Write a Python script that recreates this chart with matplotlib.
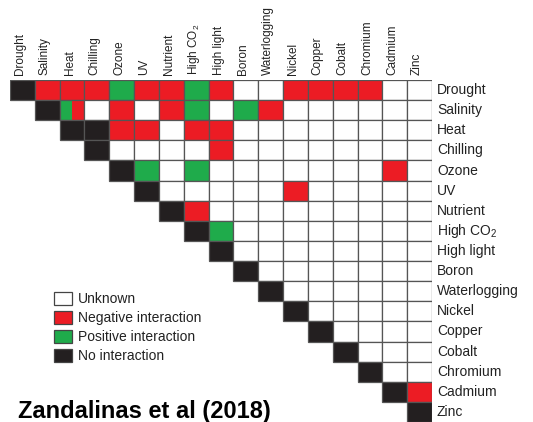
import matplotlib
matplotlib.use('Agg')
import matplotlib.pyplot as plt
from matplotlib.patches import Rectangle, Patch

plt.rcParams['font.family'] = ['Liberation Sans', 'DejaVu Sans']
plt.rcParams['mathtext.default'] = 'regular'

STRESSES = ['Drought', 'Salinity', 'Heat', 'Chilling', 'Ozone', 'UV', 'Nutrient',
            'High CO$_2$', 'High light', 'Boron', 'Waterlogging', 'Nickel', 'Copper',
            'Cobalt', 'Chromium', 'Cadmium', 'Zinc']

# K = no interaction, R = negative, G = positive, . = unknown,
# M = half positive / half negative, ' ' = not drawn (lower triangle)
MATRIX = [
    'KRRRGRRGR..RRRR..',
    ' KM.R.RG.GR......',
    '  KKRR.RR........',
    '   K....R........',
    '    KG.G.......R.',
    '     K.....R.....',
    '      KR.........',
    '       KG........',
    '        K........',
    '         K.......',
    '          K......',
    '           K.....',
    '            K....',
    '             K...',
    '              K..',
    '               KR',
    '                K',
]

LEGEND_LABELS = ['Unknown', 'Negative interaction', 'Positive interaction', 'No interaction']

COLORS = {'.': 'white', 'R': '#ec1c24', 'G': '#1fab4b', 'K': '#231f20'}
EDGE = '#555555'

W, H = 533, 422
fig = plt.figure(figsize=(W / 100, H / 100), dpi=100)
ax = fig.add_axes([10 / W, 0, 422 / W, 342 / H])
n = len(STRESSES)
ax.set_xlim(0, n)
ax.set_ylim(n, 0)
ax.axis('off')

for i, row in enumerate(MATRIX):
    for j, c in enumerate(row):
        if c == ' ':
            continue
        if c == 'M':
            ax.add_patch(Rectangle((j, i), 0.5, 1, facecolor=COLORS['G'], edgecolor='none'))
            ax.add_patch(Rectangle((j + 0.5, i), 0.5, 1, facecolor=COLORS['R'], edgecolor='none'))
            ax.add_patch(Rectangle((j, i), 1, 1, facecolor='none', edgecolor=EDGE, lw=0.9))
        else:
            ax.add_patch(Rectangle((j, i), 1, 1, facecolor=COLORS[c], edgecolor=EDGE, lw=0.9))

# labels
for k, name in enumerate(STRESSES):
    ax.text(n + 0.2, k + 0.5, name, ha='left', va='center', fontsize=10, color='#222222')
    ax.text(k + 0.4, -0.25, name, ha='center', va='bottom', rotation=90,
            fontsize=8.5, color='#222222')

handles = [Patch(facecolor=COLORS[c], edgecolor='#444444', lw=0.9) for c in '.RGK']
fig.legend(handles, LEGEND_LABELS, loc='upper left',
           bbox_to_anchor=(54 / W, 1 - 292 / H), bbox_transform=fig.transFigure,
           frameon=False, borderpad=0, borderaxespad=0, fontsize=10,
           handlelength=1.3, handleheight=1.1, handletextpad=0.45, labelspacing=0.32,
           labelcolor='#222222')

fig.text(18 / W, 1 - 418 / H, 'Zandalinas et al (2018)', fontsize=17,
         fontweight='bold', ha='left', va='baseline')

fig.savefig('out.png', dpi=100)
